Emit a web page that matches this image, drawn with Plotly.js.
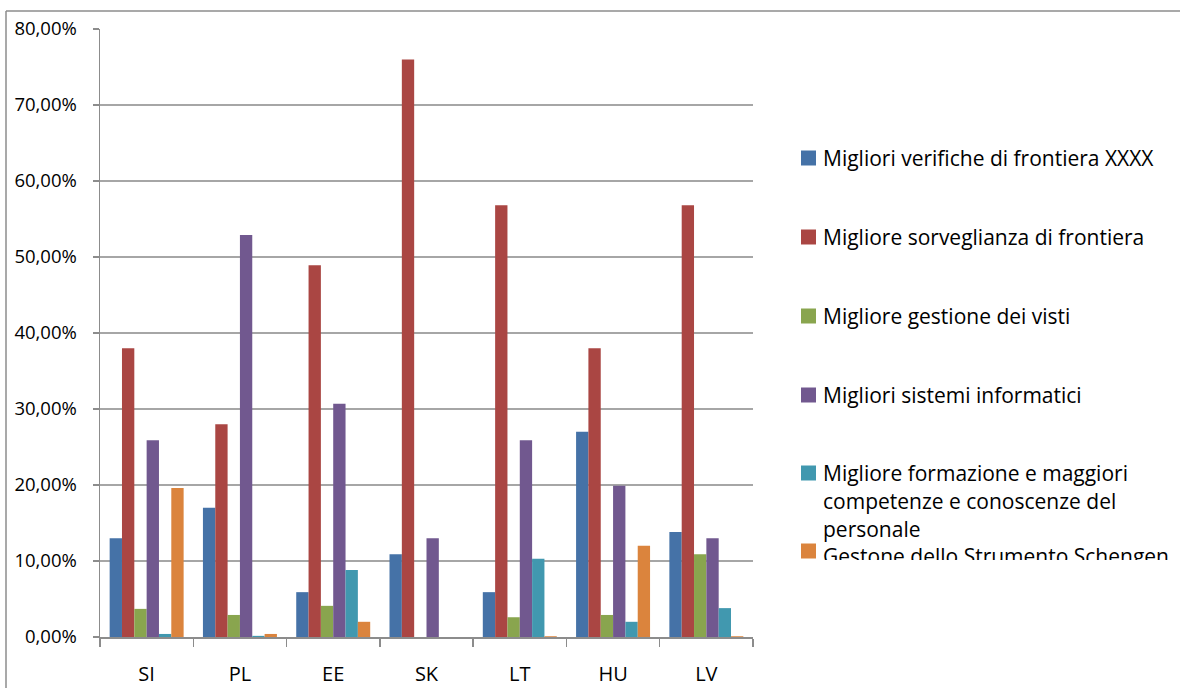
<!DOCTYPE html>
<html>
<head>
<meta charset="utf-8">
<script src="https://cdn.plot.ly/plotly-3.0.1.min.js"></script>
<style>
  html, body { margin: 0; padding: 0; background: #fff; }
  #chart { width: 1180px; height: 688px; }
</style>
</head>
<body>
<div id="chart"></div>
<script>
// ---- data ----
const categories = ["SI", "PL", "EE", "SK", "LT", "HU", "LV"];
const seriesNames = [
  "Migliori verifiche di frontiera XXXX",
  "Migliore sorveglianza di frontiera",
  "Migliore gestione dei visti",
  "Migliori sistemi informatici",
  "Migliore formazione e maggiori competenze e conoscenze del personale",
  "Gestone dello Strumento Schengen"
];
const verifiche     = [0.130, 0.170, 0.059, 0.109, 0.059, 0.270, 0.138];
const sorveglianza  = [0.380, 0.280, 0.489, 0.760, 0.568, 0.380, 0.568];
const visti         = [0.037, 0.029, 0.041, 0.000, 0.026, 0.029, 0.109];
const informatici   = [0.259, 0.529, 0.307, 0.130, 0.259, 0.199, 0.130];
const formazione    = [0.004, 0.0015, 0.088, 0.000, 0.103, 0.020, 0.038];
const schengen      = [0.196, 0.004, 0.020, 0.000, 0.001, 0.120, 0.001];
const yTicks = [0, 0.1, 0.2, 0.3, 0.4, 0.5, 0.6, 0.7, 0.8];

// ---- styling ----
const colors = ["#4572A7", "#AA4643", "#89A54E", "#71588F", "#4198AF", "#DB843D"];
const seriesValues = [verifiche, sorveglianza, visti, informatici, formazione, schengen];
const FONT = "'Open Sans', 'Liberation Sans', sans-serif";

const traces = seriesValues.map((vals, i) => ({
  type: "bar",
  name: seriesNames[i],
  x: categories,
  y: vals,
  marker: { color: colors[i], line: { width: 0 } },
  showlegend: false,
  hoverinfo: "x+y+name"
}));

// custom legend (wrapped lines as in the reference)
const legendLines = [
  ["Migliori verifiche di frontiera XXXX"],
  ["Migliore sorveglianza di frontiera"],
  ["Migliore gestione dei visti"],
  ["Migliori sistemi informatici"],
  ["Migliore formazione e maggiori", "competenze e conoscenze del", "personale"],
  ["Gestone dello Strumento Schengen"]
];
const legendY = [158, 237, 316, 395, 473, 551];   // px from top
const H = 688, W = 1180;
const annotations = [];
const shapes = [];
legendLines.forEach((lines, i) => {
  shapes.push({
    type: "rect", xref: "paper", yref: "paper", layer: "above",
    x0: (801 - 100) / 653, x1: (816 - 100) / 653,
    y0: (637 - (legendY[i] - 7.5)) / 608, y1: (637 - (legendY[i] + 7.5)) / 608,
    fillcolor: colors[i], line: { width: 0 }
  });
  lines.forEach((t, j) => {
    const ann = {
      xref: "paper", yref: "paper",
      x: (821 - 100) / 653, xanchor: "left",
      y: (637 - (legendY[i] + j * 28)) / 608, yanchor: "middle",
      text: t, showarrow: false, align: "left",
      font: { family: FONT, size: 21, color: "#000" }
    };
    if (i === 5) {
      ann.y = (637 - 540) / 608;
      ann.yanchor = "top";
      ann.valign = "top";
      ann.height = 18;
    }
    annotations.push(ann);
  });
});

// outer chart border (only left and top visible in reference)
shapes.push({ type: "line", xref: "paper", yref: "paper", layer: "above",
  x0: (6 - 100) / 653, x1: (6 - 100) / 653, y0: (637 - 11) / 608, y1: (637 - 700) / 608,
  line: { color: "#8c8c8c", width: 1.5 } });
shapes.push({ type: "line", xref: "paper", yref: "paper", layer: "above",
  x0: (6 - 100) / 653, x1: (1190 - 100) / 653, y0: (637 - 11) / 608, y1: (637 - 11) / 608,
  line: { color: "#8c8c8c", width: 1.5 } });

const layout = {
  width: W, height: H,
  margin: { l: 100, r: 427, t: 29, b: 51, pad: 0 },
  paper_bgcolor: "#fff", plot_bgcolor: "#fff",
  separators: ",.",
  barmode: "group",
  bargap: 0.207,
  bargroupgap: 0,
  font: { family: FONT, size: 18, color: "#000" },
  xaxis: {
    type: "category",
    showline: true, linecolor: "#8c8c8c", linewidth: 1.5,
    ticks: "outside", tickson: "boundaries", ticklen: 8, tickcolor: "#8c8c8c", tickwidth: 1.5,
    showgrid: false, zeroline: false,
    tickfont: { family: FONT, size: 20, color: "#000" },
    ticklabelstandoff: 18
  },
  yaxis: {
    range: [0, 0.8], tickvals: yTicks, tickformat: ".2%",
    showline: true, linecolor: "#8c8c8c", linewidth: 1.5,
    ticks: "outside", ticklen: 6, tickcolor: "#8c8c8c", tickwidth: 1.5,
    showgrid: true, gridcolor: "#a6a6a6", gridwidth: 1.5,
    zeroline: false,
    tickfont: { family: FONT, size: 18.5, color: "#000" },
    ticklabelstandoff: 12
  },
  annotations: annotations,
  shapes: shapes
};

Plotly.newPlot("chart", traces, layout, { displayModeBar: false, staticPlot: true });
</script>
</body>
</html>
